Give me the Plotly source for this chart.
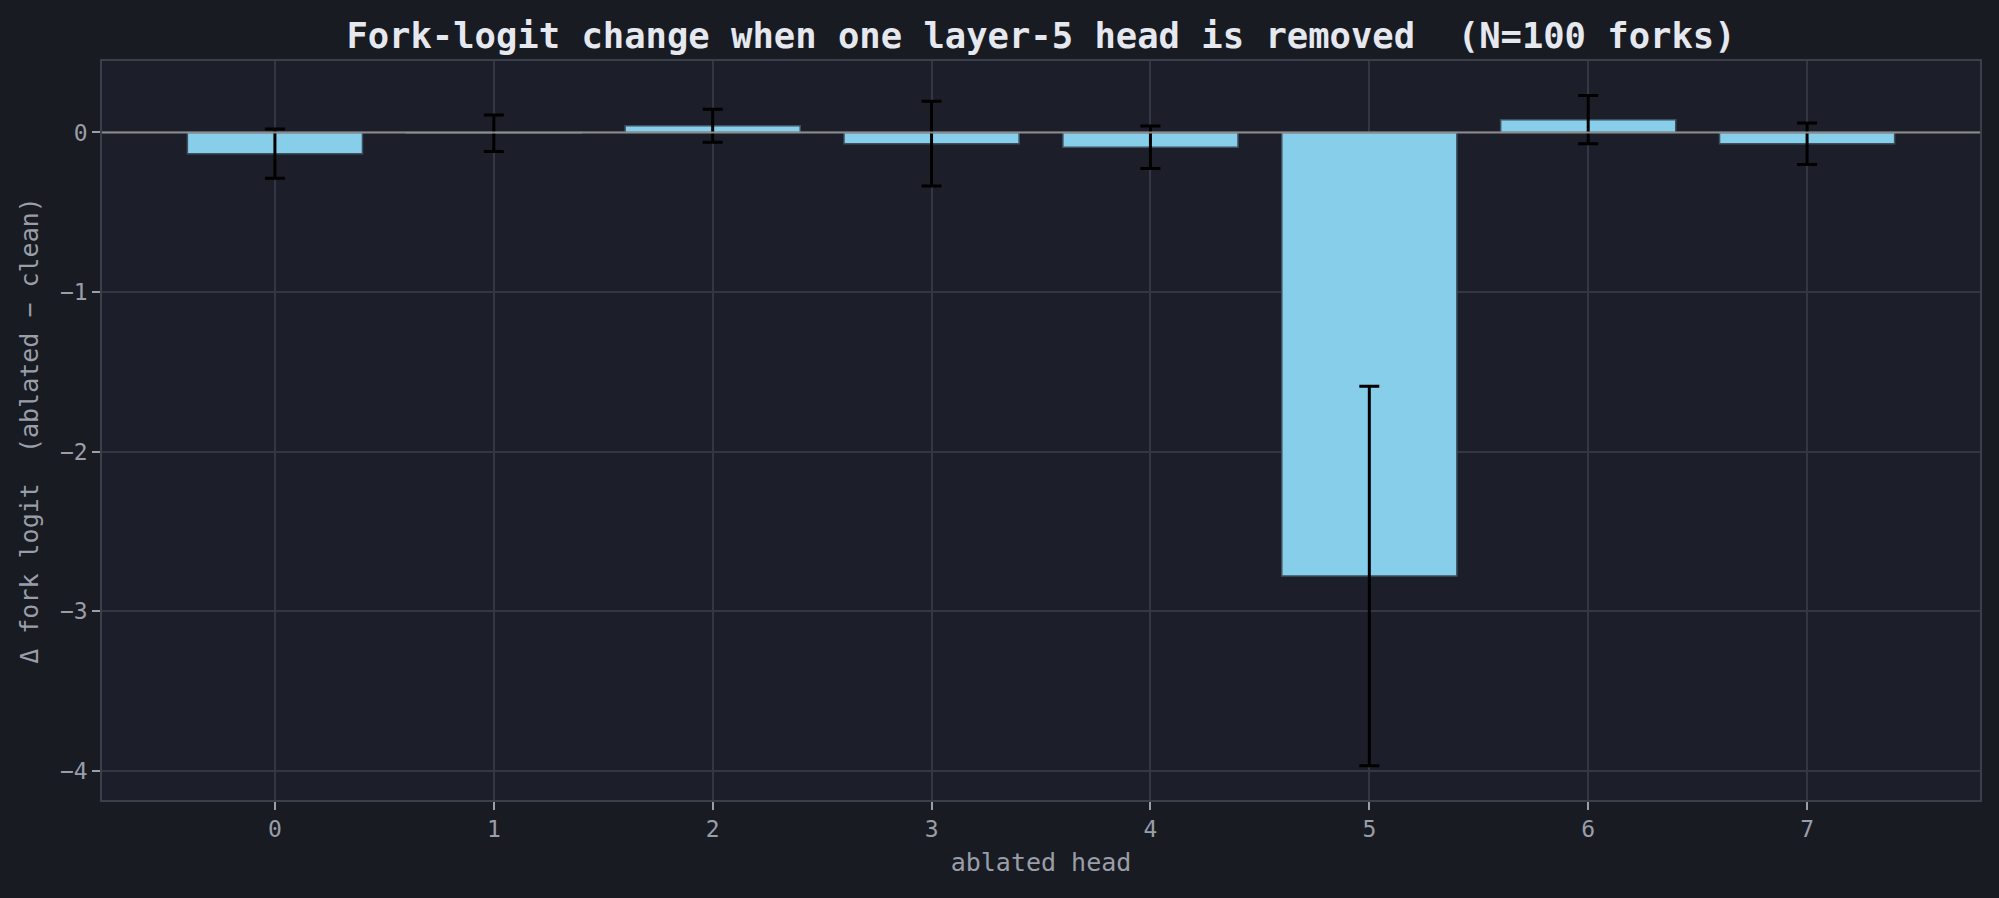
import plotly.graph_objects as go

heads = [0, 1, 2, 3, 4, 5, 6, 7]
delta_logit = [-0.133, -0.005, 0.042, -0.07, -0.093, -2.78, 0.08, -0.07]
delta_err = [0.154, 0.114, 0.104, 0.265, 0.133, 1.19, 0.151, 0.13]

FONT = "DejaVu Sans Mono"
fig_bg = "#181b22"
ax_bg = "#1c1f29"
grid = "#323744"
tick_col = "#9a9ea8"

fig = go.Figure()
fig.add_trace(
    go.Bar(
        x=heads,
        y=delta_logit,
        width=0.8,
        marker=dict(color="#87ceeb", line=dict(color="#3e4f5e", width=1.5)),
        error_y=dict(type="data", array=delta_err, visible=True,
                     color="#000000", thickness=3, width=10),
        showlegend=False,
    )
)
# zero reference line, drawn over the bars like the original
fig.add_hline(y=0, line=dict(color="#8c8c8c", width=2), layer="above")

fig.update_layout(
    width=1999,
    height=898,
    paper_bgcolor=fig_bg,
    plot_bgcolor=ax_bg,
    margin=dict(l=102, r=19, t=61, b=98),
    font=dict(family=FONT, color=tick_col, size=24),
    title=dict(
        text="Fork-logit change when one layer-5 head is removed  (N=100 forks)",
        font=dict(family=FONT, size=35.5, color="#e6e8ef", weight="bold"),
        x=0.5, xref="paper", xanchor="center",
        y=1 - 36 / 898, yref="container", yanchor="middle",
    ),
    bargap=0.2,
)
fig.update_xaxes(
    range=[-0.79, 7.79],
    tickvals=heads,
    ticks="outside", ticklen=8, tickcolor=tick_col, tickwidth=1.5,
    tickfont=dict(family=FONT, size=23, color=tick_col),
    showgrid=True, gridcolor=grid, gridwidth=1.5,
    showline=True, linecolor="#3a3f4c", linewidth=1.5, mirror=True,
    zeroline=False,
    title=dict(text="ablated head", font=dict(family=FONT, size=25, color=tick_col), standoff=12),
)
fig.update_yaxes(
    range=[-4.184, 0.448],
    tickvals=[0, -1, -2, -3, -4],
    ticks="outside", ticklen=8, tickcolor=tick_col, tickwidth=1.5,
    tickfont=dict(family=FONT, size=23, color=tick_col),
    showgrid=True, gridcolor=grid, gridwidth=1.5,
    showline=True, linecolor="#3a3f4c", linewidth=1.5, mirror=True,
    zeroline=False,
    title=dict(text="Δ fork logit  (ablated − clean)",
               font=dict(family=FONT, size=25, color=tick_col), standoff=14),
)

fig.write_html("out.html", config={"displayModeBar": False},
               post_script="document.body.style.margin='0px';document.body.style.background='#181b22';")
